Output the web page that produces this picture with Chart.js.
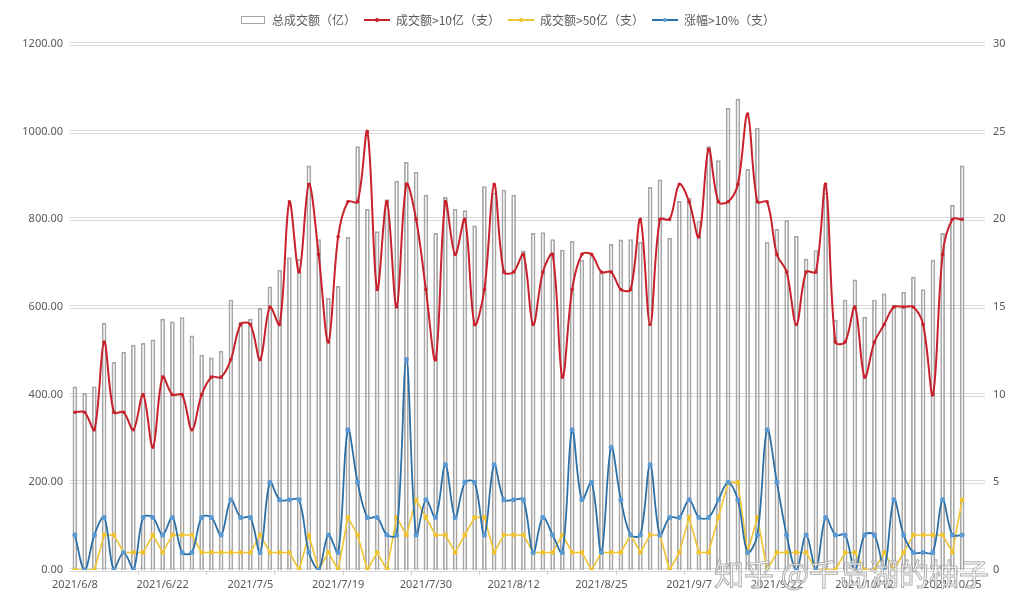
<!DOCTYPE html>
<html>
<head>
<meta charset="utf-8">
<script src="https://cdn.jsdelivr.net/npm/chart.js@4.4.0/dist/chart.umd.min.js"></script>
<style>
  html, body { margin: 0; padding: 0; background: #fff; }
  #wrap { position: relative; width: 1017px; height: 614px; }
  #watermark {
    position: absolute; left: 714px; top: 550px;
    font: 30px "Noto Sans CJK SC"; white-space: nowrap;
    color: rgba(255,255,255,0.7);
    -webkit-text-stroke: 1px rgba(150,150,150,0.75);
    pointer-events: none;
  }
</style>
</head>
<body>
<div id="wrap">
  <canvas id="chart" width="1017" height="614"></canvas>
  <div id="watermark">知乎 @千岛湖的柚子</div>
</div>
<script>
/* --------------- Trading days --------------------- */
const dates = [
  "2021/6/8","2021/6/9","2021/6/10","2021/6/11","2021/6/15","2021/6/16","2021/6/17","2021/6/18","2021/6/21","2021/6/22",
  "2021/6/23","2021/6/24","2021/6/25","2021/6/28","2021/6/29","2021/6/30","2021/7/1","2021/7/2","2021/7/5","2021/7/6",
  "2021/7/7","2021/7/8","2021/7/9","2021/7/13","2021/7/14","2021/7/15","2021/7/16","2021/7/19","2021/7/20","2021/7/21",
  "2021/7/22","2021/7/23","2021/7/26","2021/7/27","2021/7/28","2021/7/29","2021/7/30","2021/8/2","2021/8/3","2021/8/4",
  "2021/8/5","2021/8/6","2021/8/9","2021/8/10","2021/8/11","2021/8/12","2021/8/13","2021/8/16","2021/8/17","2021/8/18",
  "2021/8/19","2021/8/20","2021/8/23","2021/8/24","2021/8/25","2021/8/26","2021/8/27","2021/8/30","2021/8/31","2021/9/1",
  "2021/9/2","2021/9/3","2021/9/6","2021/9/7","2021/9/8","2021/9/9","2021/9/10","2021/9/13","2021/9/14","2021/9/15",
  "2021/9/16","2021/9/17","2021/9/22","2021/9/23","2021/9/24","2021/9/27","2021/9/28","2021/9/29","2021/9/30","2021/10/8",
  "2021/10/11","2021/10/12","2021/10/13","2021/10/14","2021/10/15","2021/10/18","2021/10/19","2021/10/20","2021/10/21","2021/10/22",
  "2021/10/25","2021/10/26"
];
/* --------------- 总成交额（亿） --------------------- */
const totalTurnover = [
  418, 403, 418, 563, 474, 497, 513, 517, 525, 572,
  566, 576, 534, 490, 484, 499, 616, 566, 572, 597,
  646, 684, 713, 709, 922, 754, 620, 647, 759, 966,
  823, 772, 845, 887, 930, 908, 855, 768, 850, 823,
  820, 785, 875, 860, 867, 855, 728, 768, 770, 754,
  730, 750, 707, 715, 677, 743, 753, 754, 748, 873,
  890, 757, 841, 848, 795, 966, 934, 1053, 1074, 914,
  1008, 748, 777, 797, 761, 709, 729, 860, 570, 616,
  662, 577, 616, 630, 605, 634, 668, 640, 707, 768,
  832, 922
];
/* --------------- 成交额>10亿（支） --------------------- */
const over10 = [
  9, 9, 8, 13, 9, 9, 8, 10, 7, 11,
  10, 10, 8, 10, 11, 11, 12, 14, 14, 12,
  15, 14, 21, 17, 22, 18, 13, 19, 21, 21,
  25, 16, 21, 15, 22, 20, 16, 12, 21, 18,
  20, 14, 16, 22, 17, 17, 18, 14, 17, 18,
  11, 16, 18, 18, 17, 17, 16, 16, 20, 14,
  20, 20, 22, 21, 19, 24, 21, 21, 22, 26,
  21, 21, 18, 17, 14, 17, 17, 22, 13, 13,
  15, 11, 13, 14, 15, 15, 15, 14, 10, 18,
  20, 20
];
/* --------------- 成交额>50亿（支） --------------------- */
const over50 = [
  0, 0, 0, 2, 2, 1, 1, 1, 2, 1,
  2, 2, 2, 1, 1, 1, 1, 1, 1, 2,
  1, 1, 1, 0, 2, 0, 1, 0, 3, 2,
  0, 1, 0, 3, 2, 4, 3, 2, 2, 1,
  2, 3, 3, 1, 2, 2, 2, 1, 1, 1,
  2, 1, 1, 0, 1, 1, 1, 2, 1, 2,
  2, 0, 1, 3, 1, 1, 3, 5, 5, 1,
  3, 0, 1, 1, 1, 1, 0, 0, 0, 1,
  1, 0, 0, 1, 0, 1, 2, 2, 2, 2,
  1, 4
];
/* --------------- 涨幅>10%（支） --------------------- */
const limitUp = [
  2, 0, 2, 3, 0, 1, 0, 3, 3, 2,
  3, 1, 1, 3, 3, 2, 4, 3, 3, 1,
  5, 4, 4, 4, 1, 0, 2, 1, 8, 5,
  3, 3, 2, 2, 12, 2, 4, 3, 6, 3,
  5, 5, 2, 6, 4, 4, 4, 1, 3, 2,
  1, 8, 4, 5, 1, 7, 4, 2, 2, 6,
  2, 3, 3, 4, 3, 3, 4, 5, 4, 1,
  2, 8, 5, 2, 0, 2, 0, 3, 2, 2,
  0, 2, 2, 0, 4, 2, 1, 1, 1, 4,
  2, 2
];
const leftTicks = [0, 200, 400, 600, 800, 1000, 1200];
const rightTicks = [0, 5, 10, 15, 20, 25, 30];

/* --------------- Colors --------------------- */
const barLine = "#a6a6a6";
const redColor = "#c9212b";
const yellowColor = "#f0c330";
const blueColor = "#2c70a8";
const blueDot = "#5b9bd5";
const textColor = "#595959";

/* --------------- Legend icons --------------------- */
function legendIcon(kind, color, dot) {
  const c = document.createElement("canvas");
  c.width = 26; c.height = 10;
  const g = c.getContext("2d");
  if (kind === "bar") {
    g.strokeStyle = barLine; g.lineWidth = 1;
    g.strokeRect(1.5, 1.5, 23, 7);
  } else {
    g.strokeStyle = color; g.lineWidth = 2;
    g.beginPath(); g.moveTo(0, 5); g.lineTo(26, 5); g.stroke();
    g.fillStyle = dot;
    g.beginPath(); g.arc(13, 5, 2, 0, Math.PI * 2); g.fill();
  }
  return c;
}
const icons = [
  legendIcon("bar"),
  legendIcon("line", redColor, redColor),
  legendIcon("line", yellowColor, yellowColor),
  legendIcon("line", blueColor, blueDot),
];

/* --------------- Double grid lines like Excel --------------------- */
const doubleGrid = {
  id: "doubleGrid",
  beforeDatasetsDraw(chart) {
    const { ctx, chartArea } = chart;
    const y = chart.scales.y;
    ctx.save();
    ctx.strokeStyle = "#dadada";
    ctx.lineWidth = 1;
    leftTicks.forEach((v) => {
      const p = Math.round(y.getPixelForValue(v));
      [p - 1.5, p + 1.5].forEach((yy) => {
        ctx.beginPath();
        ctx.moveTo(chartArea.left, yy);
        ctx.lineTo(chartArea.right + 18, yy);
        ctx.stroke();
      });
    });
    ctx.restore();
  },
};

/* --------------- Extra gap under the legend --------------------- */
const legendGap = {
  id: "legendGap",
  afterInit(chart) {
    const lg = chart.legend;
    const fit = lg.fit;
    lg.fit = function () {
      fit.call(this);
      this.height += 8;
    };
  },
};

/* --------------- Chart --------------------- */
const tickFont = { family: "'Noto Sans', sans-serif", size: 11 };
new Chart(document.getElementById("chart"), {
  plugins: [doubleGrid, legendGap],
  data: {
    labels: dates,
    datasets: [
      {
        type: "bar",
        label: "总成交额（亿）",
        data: totalTurnover,
        yAxisID: "y",
        backgroundColor: "rgba(255,255,255,0)",
        borderColor: barLine,
        borderWidth: 1,
        barThickness: 4,
        order: 4,
      },
      {
        type: "line",
        label: "成交额>10亿（支）",
        data: over10,
        yAxisID: "y1",
        borderColor: redColor,
        backgroundColor: redColor,
        borderWidth: 2,
        pointRadius: 0.8,
        tension: 0.35,
        order: 1,
      },
      {
        type: "line",
        label: "成交额>50亿（支）",
        data: over50,
        yAxisID: "y1",
        borderColor: yellowColor,
        backgroundColor: yellowColor,
        borderWidth: 1.6,
        pointRadius: 1.6,
        tension: 0,
        order: 3,
      },
      {
        type: "line",
        label: "涨幅>10%（支）",
        data: limitUp,
        yAxisID: "y1",
        borderColor: blueColor,
        backgroundColor: blueDot,
        pointBorderColor: blueDot,
        borderWidth: 1.8,
        pointRadius: 1.6,
        tension: 0.35,
        order: 2,
      },
    ],
  },
  options: {
    responsive: false,
    devicePixelRatio: 1,
    animation: false,
    layout: { padding: { top: 6, left: 8, right: 10, bottom: 14 } },
    plugins: {
      tooltip: { enabled: false },
      legend: {
        position: "top",
        labels: {
          usePointStyle: true,
          pointStyleWidth: 26,
          boxHeight: 10,
          padding: 8,
          color: textColor,
          font: { family: "'Noto Sans CJK SC', sans-serif", size: 12 },
          sort: (a, b) => a.datasetIndex - b.datasetIndex,
          generateLabels(chart) {
            const items = Chart.defaults.plugins.legend.labels.generateLabels(chart);
            items.forEach((it) => { it.pointStyle = icons[it.datasetIndex]; });
            return items;
          },
        },
      },
    },
    scales: {
      x: {
        type: "category",
        offset: true,
        border: { display: false },
        grid: {
          display: true,
          drawOnChartArea: false,
          offset: true,
          tickLength: 5,
          color: (c) => (c.index > 0 && c.index % 7 === 0 ? "#d0d0d0" : "rgba(0,0,0,0)"),
        },
        ticks: {
          autoSkip: false,
          maxRotation: 0,
          padding: 3,
          color: textColor,
          font: tickFont,
          callback: (v, i) => (i % 9 === 0 ? dates[i] : ""),
        },
        afterFit: (s) => { s.height = 30; },
      },
      y: {
        position: "left",
        min: 0,
        max: 1200,
        border: { display: false },
        grid: { display: false, drawTicks: false },
        ticks: {
          stepSize: 200,
          padding: 7,
          color: textColor,
          font: tickFont,
          callback: (v) => v.toFixed(2),
        },
        afterFit: (s) => { s.width = 62; },
      },
      y1: {
        position: "right",
        min: 0,
        max: 30,
        border: { display: false },
        grid: { display: false, drawTicks: false },
        ticks: {
          stepSize: 5,
          padding: 26,
          color: textColor,
          font: tickFont,
        },
        afterFit: (s) => { s.width = 40; },
      },
    },
  },
});
</script>
</body>
</html>
